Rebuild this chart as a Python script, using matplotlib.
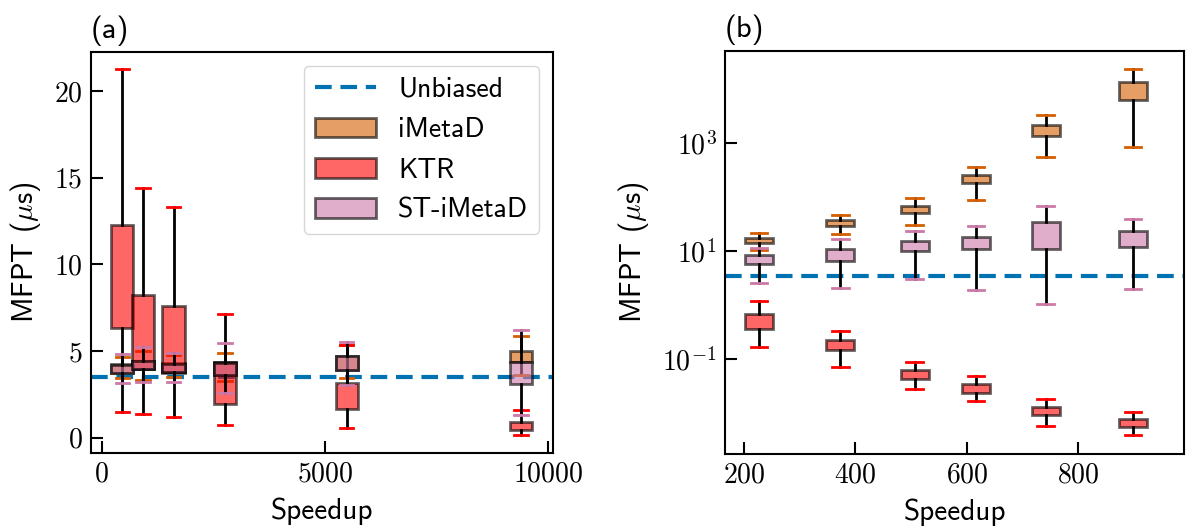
import numpy as np
import matplotlib
matplotlib.use("Agg")
import matplotlib.pyplot as plt
from matplotlib.patches import Patch
from matplotlib.lines import Line2D
from matplotlib.ticker import FuncFormatter, NullLocator

plt.rcParams['font.family'] = ['cmss10', 'DejaVu Sans']
plt.rcParams['mathtext.fontset'] = 'cm'
plt.rcParams['axes.unicode_minus'] = False

unbiased = 3.5

# panel (a): linear scale
speedup_a = [460, 930, 1610, 2760, 5490, 9390]
imetad_a_lo = [3.45, 3.33, 3.5, 3.27, 3.46, 3.6]
imetad_a_q1 = [3.72, 3.96, 3.77, 3.62, 3.91, 4.39]
imetad_a_q3 = [4.24, 4.44, 4.29, 4.39, 4.73, 5.0]
imetad_a_hi = [4.66, 5.02, 4.75, 4.89, 5.33, 5.87]
ktr_a_lo = [1.48, 1.37, 1.21, 0.71, 0.54, 0.16]
ktr_a_q1 = [6.31, 3.96, 3.75, 1.93, 1.64, 0.44]
ktr_a_q3 = [12.29, 8.23, 7.62, 4.39, 3.14, 0.91]
ktr_a_hi = [21.27, 14.41, 13.33, 7.12, 5.35, 1.6]
st_a_lo = [3.14, 3.23, 3.2, 2.56, 3.05, 1.29]
st_a_q1 = [3.75, 3.98, 3.8, 3.62, 3.93, 3.1]
st_a_q3 = [4.2, 4.4, 4.25, 4.3, 4.7, 4.39]
st_a_hi = [4.83, 5.21, 4.87, 5.45, 5.52, 6.21]

# panel (b): log scale
speedup_b = [227, 373, 506, 616, 741, 898]
imetad_b_lo = [10.3, 20.4, 30.3, 87, 558, 830]
imetad_b_q1 = [13.9, 29, 50, 182, 1350, 6250]
imetad_b_q3 = [17.6, 37, 69, 252, 2150, 13500]
imetad_b_hi = [21.2, 47, 94, 360, 3300, 23400]
ktr_b_lo = [0.164, 0.070, 0.0275, 0.0165, 0.00582, 0.0039]
ktr_b_q1 = [0.36, 0.147, 0.0427, 0.0238, 0.0093, 0.0056]
ktr_b_q3 = [0.68, 0.222, 0.0625, 0.034, 0.0131, 0.0077]
ktr_b_hi = [1.2, 0.335, 0.088, 0.048, 0.0184, 0.0105]
st_b_lo = [2.59, 2.1, 2.99, 1.9, 1.06, 1.98]
st_b_q1 = [5.8, 6.4, 10.1, 10.9, 10.7, 12]
st_b_q3 = [8.3, 10.7, 15.5, 18.2, 35, 23.1]
st_b_hi = [11.2, 16.7, 23.1, 29, 68, 39.8]

methods = ["iMetaD", "KTR", "ST-iMetaD"]
colors = ["#D55E00", "red", "#CC79A7"]


def make_stats(lo, q1, q3, hi):
    return [dict(whislo=a, q1=b, med=np.sqrt(b * c), q3=c, whishi=d, fliers=[])
            for a, b, c, d in zip(lo, q1, q3, hi)]


def draw_boxes(ax, pos, width, series):
    for (lo, q1, q3, hi), col in zip(series, colors):
        ax.bxp(make_stats(lo, q1, q3, hi), positions=pos,
               widths=width, capwidths=0.6 * width,
               patch_artist=True, showfliers=False, manage_ticks=False,
               boxprops=dict(facecolor=col, edgecolor="k", alpha=0.6, linewidth=2),
               whiskerprops=dict(color="k", linewidth=2),
               capprops=dict(color=col, linewidth=2),
               medianprops=dict(visible=False))


fig = plt.figure(figsize=(11.87, 5.26), dpi=100)
ax1 = fig.add_axes([0.0764, 0.1388, 0.3897, 0.7624])
ax2 = fig.add_axes([0.6108, 0.1375, 0.3870, 0.7650])

for ax in (ax1, ax2):
    ax.axhline(unbiased, color="#0072B2", linewidth=3, dashes=(4, 2.1), zorder=1)

draw_boxes(ax1, speedup_a, 500,
           [(imetad_a_lo, imetad_a_q1, imetad_a_q3, imetad_a_hi),
            (ktr_a_lo, ktr_a_q1, ktr_a_q3, ktr_a_hi),
            (st_a_lo, st_a_q1, st_a_q3, st_a_hi)])
draw_boxes(ax2, speedup_b, 50,
           [(imetad_b_lo, imetad_b_q1, imetad_b_q3, imetad_b_hi),
            (ktr_b_lo, ktr_b_q1, ktr_b_q3, ktr_b_hi),
            (st_b_lo, st_b_q1, st_b_q3, st_b_hi)])

ax1.set_xlim(-246, 10115)
ax1.set_ylim(-0.88, 22.26)
ax1.set_xticks([0, 5000, 10000])
ax1.set_yticks([0, 5, 10, 15, 20])
ax1.xaxis.set_major_formatter(FuncFormatter(lambda v, p: f"${v:g}$"))
ax1.yaxis.set_major_formatter(FuncFormatter(lambda v, p: f"${v:g}$"))

ax2.set_yscale("log")
ax2.set_xlim(166, 990)
ax2.set_ylim(0.00176, 5.0e4)
ax2.set_xticks([200, 400, 600, 800])
ax2.set_yticks([1e-1, 1e1, 1e3])
ax2.yaxis.set_minor_locator(NullLocator())
ax2.xaxis.set_major_formatter(FuncFormatter(lambda v, p: f"${v:g}$"))
ax2.yaxis.set_major_formatter(
    FuncFormatter(lambda v, p: "$10^{%d}$" % int(round(np.log10(v)))))

for ax, tag in ((ax1, "(a)"), (ax2, "(b)")):
    ax.set_xlabel("Speedup", fontsize=21, labelpad=8)
    ax.set_ylabel(r"MFPT ($\mu$s)", fontsize=21, labelpad=8)
    ax.set_title(tag, loc="left", fontsize=22, pad=10)
    ax.tick_params(direction="in", length=8.5, width=1.5, labelsize=20, pad=6)
    for s in ax.spines.values():
        s.set_linewidth(1.5)

handles = [Line2D([], [], color="#0072B2", linewidth=3, dashes=(4, 2.1))]
for col in colors:
    handles.append(Patch(facecolor=col, edgecolor="k", alpha=0.6, linewidth=2))
ax1.legend(handles, ["Unbiased"] + methods, loc="upper right", fontsize=20,
           handlelength=2.2, labelspacing=0.55, borderaxespad=0.5)

fig.savefig("out.png", dpi=100)
